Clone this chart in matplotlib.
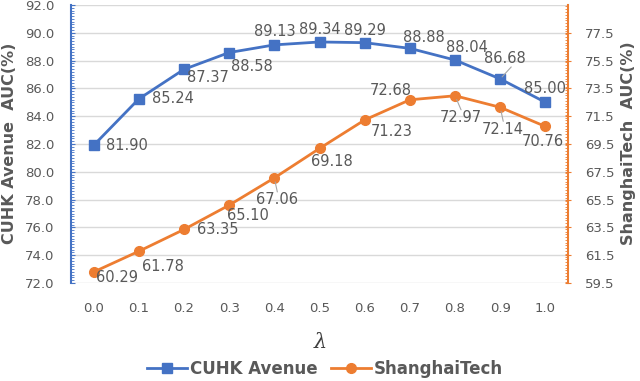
import matplotlib
matplotlib.use("Agg")
import matplotlib.pyplot as plt
from matplotlib.ticker import MultipleLocator, FixedLocator
from matplotlib.lines import Line2D

lambdas = ["0.0", "0.1", "0.2", "0.3", "0.4", "0.5", "0.6", "0.7", "0.8", "0.9", "1.0"]
cuhk = [81.90, 85.24, 87.37, 88.58, 89.13, 89.34, 89.29, 88.88, 88.04, 86.68, 85.00]
shanghai = [60.29, 61.78, 63.35, 65.10, 67.06, 69.18, 71.23, 72.68, 72.97, 72.14, 70.76]

# label offsets in pixels (dx right, dy down)
cuhk_off = [(33, 0), (34, 0), (24, 8), (23, 14), (0, -13), (0, -12), (0, -12),
            (14, -11), (12, -13), (5, -20), (0, -14)]
sh_off = [(23, 5), (24, 15), (34, 0), (19, 10), (3, 22), (12, 13), (27, 12),
          (-19, -9), (6, 22), (3, 22), (-3, 15)]
cuhk_leader = [9]
sh_leader = [4, 8, 9]

BLUE = "#4472C4"
ORANGE = "#ED7D31"
GREY = "#595959"

plt.rcParams['font.family'] = ['DejaVu Sans']

fig = plt.figure(figsize=(6.4, 3.81), dpi=100)
ax = fig.add_axes([71/640, 1-283/381, (568-71)/640, (283-5)/381])
ax2 = ax.twinx()

x = list(range(len(lambdas)))
ax.plot(x, cuhk, color=BLUE, lw=2.0, marker='s', ms=6.5, zorder=3)
ax2.plot(x, shanghai, color=ORANGE, lw=2.0, marker='o', ms=7, zorder=3)

ax.set_xlim(-0.5, len(lambdas) - 0.5)
ax.set_ylim(72, 92)
ax2.set_ylim(59.5, 79.5)
ax.yaxis.set_major_locator(MultipleLocator(2))
ax.yaxis.set_minor_locator(MultipleLocator(0.2))
ax2.yaxis.set_major_locator(FixedLocator([59.5 + 2*i for i in range(10)]))
ax2.yaxis.set_minor_locator(MultipleLocator(0.2))
ax.yaxis.set_major_formatter(matplotlib.ticker.FormatStrFormatter('%.1f'))
ax2.yaxis.set_major_formatter(matplotlib.ticker.FormatStrFormatter('%.1f'))
ax.set_xticks(x)
ax.set_xticklabels(lambdas)

ax.grid(axis='y', color='#D9D9D9', lw=1.0)
ax.set_axisbelow(True)

for a in (ax, ax2):
    a.spines['top'].set_visible(False)
    a.spines['bottom'].set_visible(False)
ax.spines['right'].set_visible(False)
ax2.spines['left'].set_visible(False)
ax.spines['left'].set_color(BLUE)
ax.spines['left'].set_linewidth(1.5)
ax2.spines['right'].set_color(ORANGE)
ax2.spines['right'].set_linewidth(1.5)

ax.tick_params(axis='x', length=0, labelsize=9.5, labelcolor=GREY, pad=14)
ax.tick_params(axis='y', which='major', direction='in', length=3, color=BLUE,
               labelsize=9.5, labelcolor=GREY, pad=12)
ax.tick_params(axis='y', which='minor', direction='in', length=2.5, color=BLUE)
ax2.tick_params(axis='y', which='major', direction='inout', length=5, color=ORANGE,
                labelsize=9.5, labelcolor=GREY, pad=10)
ax2.tick_params(axis='y', which='minor', direction='in', length=2.5, color=ORANGE)

for i, v in enumerate(cuhk):
    dx, dy = cuhk_off[i]
    ax.annotate(f"{v:.2f}", (i, v), xytext=(dx, -dy), textcoords='offset pixels',
                ha='center', va='center', fontsize=10.5, color=GREY, zorder=4)
    if i in cuhk_leader:
        ax.annotate("", (i, v), xytext=(dx + 6, -dy - 8), textcoords='offset pixels',
                    arrowprops=dict(arrowstyle='-', color='#A6A6A6', lw=0.8,
                                    shrinkA=0, shrinkB=2))
for i, v in enumerate(shanghai):
    dx, dy = sh_off[i]
    ax2.annotate(f"{v:.2f}", (i, v), xytext=(dx, -dy), textcoords='offset pixels',
                 ha='center', va='center', fontsize=10.5, color=GREY, zorder=4)
    if i in sh_leader:
        ax2.annotate("", (i, v), xytext=(dx, -dy + 8), textcoords='offset pixels',
                     arrowprops=dict(arrowstyle='-', color='#A6A6A6', lw=0.8,
                                     shrinkA=0, shrinkB=3))

fig.text(10/640, 1-143/381, "CUHK Avenue  AUC(%)", rotation=90, ha='center', va='center',
         fontsize=11.5, fontweight='bold', color=GREY)
fig.text(628/640, 1-143/381, "ShanghaiTech  AUC(%)", rotation=90, ha='center', va='center',
         fontsize=11.5, fontweight='bold', color=GREY)
fig.text(320/640, 1-342/381, "λ", ha='center', va='center', fontsize=15,
         family='DejaVu Serif', style='italic', color='#404040')

handles = [Line2D([], [], color=BLUE, lw=2.0, marker='s', ms=6.5),
           Line2D([], [], color=ORANGE, lw=2.0, marker='o', ms=7)]
leg = fig.legend(handles, ["CUHK Avenue", "ShanghaiTech"], loc='center',
                 bbox_to_anchor=(325/640, 1-369/381), ncol=2, frameon=False,
                 prop={'weight': 'bold', 'size': 12}, handlelength=2.4,
                 columnspacing=0.8, handletextpad=0.2)
for t in leg.get_texts():
    t.set_color(GREY)

fig.savefig("out.png", dpi=100)
